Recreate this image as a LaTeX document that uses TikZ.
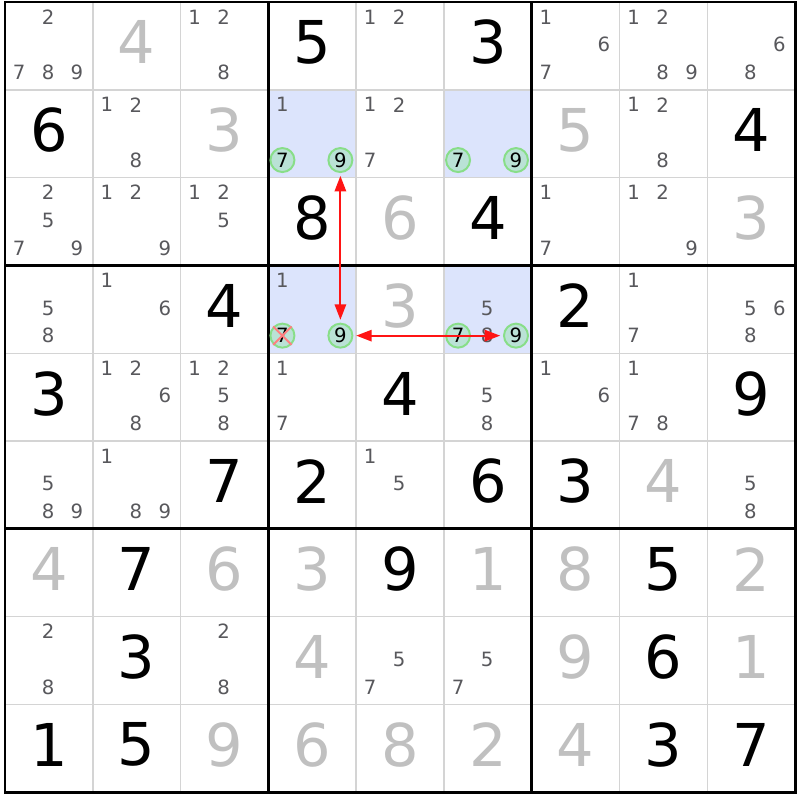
\documentclass[tikz,border=0pt]{standalone}
\usepackage{xcolor}
\usepackage{fontspec}
\setmainfont{DejaVu Sans}
\usetikzlibrary{arrows.meta}

\definecolor{solvedgray}{RGB}{192,192,192}
\definecolor{candgray}{RGB}{88,88,92}
\definecolor{gridgray}{RGB}{212,212,212}
\definecolor{cellblue}{RGB}{220,228,252}
\definecolor{ringline}{RGB}{136,222,136}
\definecolor{ringfill}{RGB}{186,226,214}
\definecolor{linkred}{RGB}{255,20,20}
\definecolor{crossred}{RGB}{255,128,128}

% place of candidate #3 in the cell of row #1, column #2
\newcommand{\candat}[3]{%
  \pgfmathsetmacro{\cx}{#2+0.16+0.33*mod(#3-1,3)}%
  \pgfmathsetmacro{\cy}{#1+0.17+0.315*int((#3-1)/3)}}

\tikzset{
  given/.style={inner sep=0pt, font=\fontsize{42}{42}\selectfont},
  solved/.style={given, text=solvedgray},
  cand/.style={inner sep=0pt, text=candgray, font=\fontsize{14}{14}\selectfont},
  ring/.style={circle, draw=ringline, fill=ringfill, line width=1.4pt,
    minimum size=0.6cm, inner sep=0pt, font=\fontsize{14}{14}\selectfont},
  link/.style={linkred, line width=1.5pt,
    {Triangle[length=11pt,width=8pt]}-{Triangle[length=11pt,width=8pt]},
    shorten <=2pt, shorten >=2pt}
}

\begin{document}
\begin{tikzpicture}[x=2.195cm, y=-2.195cm]
    % Fix the margins round the grid
    \useasboundingbox (-0.057,-0.023) rectangle (9.055,9.089);

    % Shade the four cells of the pattern
    \foreach \r/\c in {1/3, 1/5, 3/3, 3/5}
        \fill[cellblue] (\c,\r) rectangle ++(1,1);

    % Draw the thin cell lines
    \foreach \i in {1,2,4,5,7,8} {
        \draw[gridgray, line width=1pt] (\i,0) -- (\i,9);
        \draw[gridgray, line width=1pt] (0,\i) -- (9,\i);
    }

    % Draw the thick box lines
    \foreach \i in {3,6} {
        \draw[line width=2pt] (\i,0) -- (\i,9);
        \draw[line width=2pt] (0,\i) -- (9,\i);
    }
    \draw[line width=2pt] (0,0) rectangle (9,9);

    % Given digits
    \foreach \r/\c/\d in {0/3/5, 0/5/3, 1/0/6, 1/8/4, 2/3/8, 2/5/4, 3/2/4, 3/6/2,
        4/0/3, 4/4/4, 4/8/9, 5/2/7, 5/3/2, 5/5/6, 5/6/3, 6/1/7, 6/4/9, 6/7/5,
        7/1/3, 7/7/6, 8/0/1, 8/1/5, 8/7/3, 8/8/7}
        \node[given] (g\r\c) at (\c+0.5,\r+0.46) {\d};

    % Solved digits
    \foreach \r/\c/\d in {0/1/4, 1/2/3, 1/6/5, 2/4/6, 2/8/3, 3/4/3, 5/7/4, 6/0/4,
        6/2/6, 6/3/3, 6/5/1, 6/6/8, 6/8/2, 7/3/4, 7/6/9, 7/8/1, 8/2/9, 8/3/6,
        8/4/8, 8/5/2, 8/6/4}
        \node[solved] (s\r\c) at (\c+0.5,\r+0.46) {\d};

    % Candidates
    \foreach \r/\c/\ds in {0/0/{2,7,8,9}, 0/2/{1,2,8}, 0/4/{1,2}, 0/6/{1,6,7},
        0/7/{1,2,8,9}, 0/8/{6,8}, 1/1/{1,2,8}, 1/3/{1}, 1/4/{1,2,7}, 1/7/{1,2,8},
        2/0/{2,5,7,9}, 2/1/{1,2,9}, 2/2/{1,2,5}, 2/6/{1,7}, 2/7/{1,2,9},
        3/0/{5,8}, 3/1/{1,6}, 3/3/{1}, 3/5/{5,8}, 3/7/{1,7}, 3/8/{5,6,8},
        4/1/{1,2,6,8}, 4/2/{1,2,5,8}, 4/3/{1,7}, 4/5/{5,8}, 4/6/{1,6}, 4/7/{1,7,8},
        5/0/{5,8,9}, 5/1/{1,8,9}, 5/4/{1,5}, 5/8/{5,8},
        7/0/{2,8}, 7/2/{2,8}, 7/4/{5,7}, 7/5/{5,7}} {
        \foreach \d in \ds {
            \candat{\r}{\c}{\d}
            \node[cand] (k\r\c\d) at (\cx,\cy) {\d};
        }
    }

    % Ringed candidates of the pattern
    \foreach \r/\c/\d in {1/3/7, 1/3/9, 1/5/7, 1/5/9, 3/3/7, 3/3/9, 3/5/7, 3/5/9} {
        \candat{\r}{\c}{\d}
        \node[ring] (r\r\c\d) at (\cx,\cy) {\d};
    }

    % Cross out the eliminated 7
    \draw[crossred, line width=1.4pt] (r337.north west) -- (r337.south east)
        (r337.north east) -- (r337.south west);

    % Links between the 9s
    \draw[link] (r139) -- (r339);
    \draw[link] (r339) -- (r359);
\end{tikzpicture}
\end{document}
